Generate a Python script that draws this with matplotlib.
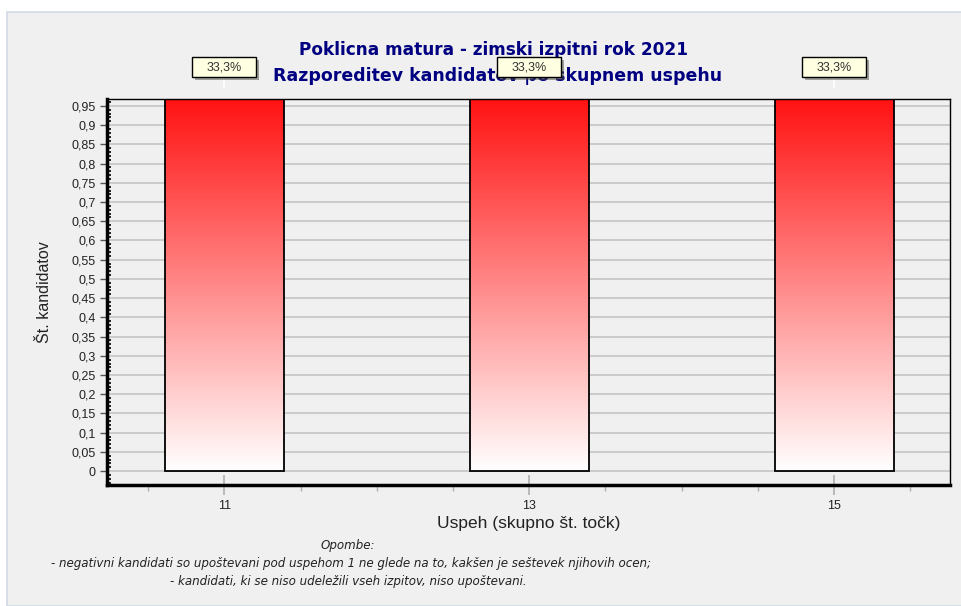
import numpy as np
import matplotlib
matplotlib.use("Agg")
import matplotlib.pyplot as plt
from matplotlib.colors import LinearSegmentedColormap
from matplotlib.ticker import MultipleLocator, FuncFormatter
from matplotlib.patches import Rectangle
import matplotlib.patheffects as pe

# data
scores = [11, 13, 15]
shares = [1.0, 1.0, 1.0]
share_labels = ["33,3%", "33,3%", "33,3%"]

title_lines = ["Poklicna matura - zimski izpitni rok 2021",
               "Razporeditev kandidatov po skupnem uspehu"]
notes = ["Opombe:",
         "- negativni kandidati so upoštevani pod uspehom 1 ne glede na to, kakšen je seštevek njihovih ocen;",
         "- kandidati, ki se niso udeležili vseh izpitov, niso upoštevani."]

plt.rcParams['font.family'] = ['Liberation Sans', 'DejaVu Sans']

W, H = 962, 606
fig = plt.figure(figsize=(W / 100, H / 100), dpi=100, facecolor='white')

# grey panel behind the chart
fig.patches.append(Rectangle((7 / W, 0), 1 - 7 / W, 1 - 12 / H, transform=fig.transFigure,
                             facecolor='#f0f0f0', edgecolor='#d3dae6', linewidth=1.2, zorder=-10))

ax = fig.add_axes([107 / W, 1 - 485 / H, (950 - 107) / W, (485 - 99) / H])
ax.set_facecolor('#f0f0f0')
ax.set_zorder(1)

bar_w = 0.78
red_white = LinearSegmentedColormap.from_list('rw', ['#ffffff', '#ff0a0a'])
grad = np.linspace(0, 1, 256).reshape(-1, 1)

# label boxes (size in data units of this fixed-size axes)
box_w, box_h, box_y = 0.42, 0.052, 1.051

for x, v, lab in zip(scores, shares, share_labels):
    ax.imshow(grad, cmap=red_white, origin='lower', aspect='auto', zorder=2,
              extent=[x - bar_w / 2, x + bar_w / 2, 0, v])
    ax.bar(x, v, width=bar_w, facecolor='none', edgecolor='black', linewidth=1.3, zorder=3)
    # white leader from label to bar top
    ax.plot([x, x], [v, box_y - box_h / 2], color='white', lw=1.2, clip_on=False, zorder=5)
    r = Rectangle((x - box_w / 2, box_y - box_h / 2), box_w, box_h, facecolor='#ffffe1',
                  edgecolor='black', linewidth=1, clip_on=False, zorder=6)
    r.set_path_effects([pe.SimplePatchShadow(offset=(2, -2), alpha=0.5), pe.Normal()])
    ax.add_patch(r)
    ax.text(x, box_y, lab, ha='center', va='center', fontsize=9, color='#333333',
            clip_on=False, zorder=7)

ax.set_xlim(10.23, 15.76)
ax.set_ylim(-0.036, 0.968)

ax.set_xticks(scores)
ax.xaxis.set_minor_locator(MultipleLocator(0.5))
ax.yaxis.set_minor_locator(MultipleLocator(0.01))
ax.set_yticks(np.arange(0, 0.951, 0.05))
ax.yaxis.set_major_formatter(FuncFormatter(lambda y, p: ('%g' % round(y, 2)).replace('.', ',')))

ax.tick_params(axis='x', which='major', direction='inout', length=14, width=1.2, color='#b0b0b0',
               labelsize=9, labelcolor='#222222', pad=4)
ax.tick_params(axis='x', which='minor', direction='out', length=4, width=1, color='#b0b0b0')
ax.tick_params(axis='y', which='major', direction='out', length=5, width=1, color='#555555',
               labelsize=9, labelcolor='#222222', pad=3)
ax.tick_params(axis='y', which='minor', direction='in', length=3, width=1.2, color='black')

ax.yaxis.grid(True, color='#c8c8c8', linewidth=1.3, zorder=0)
ax.set_axisbelow(True)

for side in ['left', 'bottom']:
    ax.spines[side].set_linewidth(2.5)
for side in ['top', 'right']:
    ax.spines[side].set_linewidth(1)

ax.set_ylabel('Št. kandidatov', fontsize=11.5, color='#222222', labelpad=14)
ax.set_xlabel('Uspeh (skupno št. točk)', fontsize=12.5, color='#222222', labelpad=3)

fig.text(494 / W, 1 - 50 / H, title_lines[0], ha='center', va='center', fontsize=12.2,
         fontweight='bold', color='#000080', family='DejaVu Sans', zorder=0)
fig.text(498 / W, 1 - 76 / H, title_lines[1], ha='center', va='center', fontsize=12.5,
         fontweight='bold', color='#000080', family='DejaVu Sans', zorder=0)

fig.text(348 / W, 1 - 546 / H, notes[0], ha='center', va='center', fontsize=8.6,
         style='italic', color='#222222', family='DejaVu Sans')
fig.text(351 / W, 1 - 564 / H, notes[1], ha='center', va='center', fontsize=8.6,
         style='italic', color='#222222', family='DejaVu Sans')
fig.text(348 / W, 1 - 582 / H, notes[2], ha='center', va='center', fontsize=8.6,
         style='italic', color='#222222', family='DejaVu Sans')

fig.savefig('out.png', dpi=100)
